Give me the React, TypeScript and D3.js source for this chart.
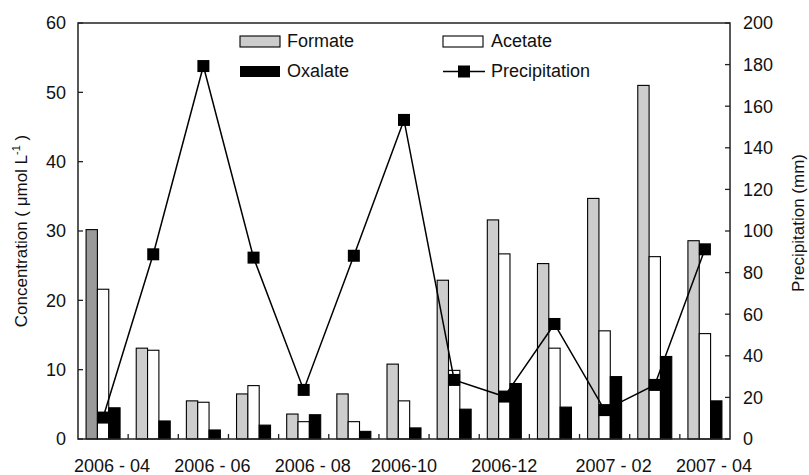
import React from "react";
import * as d3 from "d3";

const months = ["2006-04","2006-05","2006-06","2006-07","2006-08","2006-09","2006-10","2006-11","2006-12","2007-01","2007-02","2007-03","2007-04"];
const formate = [30.2, 13.1, 5.5, 6.5, 3.6, 6.5, 10.8, 22.9, 31.6, 25.3, 34.7, 51.0, 28.6];
const acetate = [21.6, 12.8, 5.3, 7.7, 2.5, 2.5, 5.5, 9.9, 26.7, 13.1, 15.6, 26.3, 15.2];
const oxalate = [4.5, 2.6, 1.3, 2.0, 3.5, 1.1, 1.6, 4.3, 8.0, 4.6, 9.0, 11.9, 5.5];
const precipitation = [10.3, 88.8, 179.3, 87.2, 23.6, 88.1, 153.4, 28.4, 20.4, 55.3, 13.9, 26.0, 91.2];
const leftTicks = [0, 10, 20, 30, 40, 50, 60];
const rightTicks = [0, 20, 40, 60, 80, 100, 120, 140, 160, 180, 200];
const xTickMonths = ["2006-04","2006-06","2006-08","2006-10","2006-12","2007-02","2007-04"];
const xTickLabels = ["2006 - 04","2006 - 06","2006 - 08","2006-10","2006-12","2007 - 02","2007 - 04"];
const seriesNames = ["Formate", "Acetate", "Oxalate"];

const W = 809, H = 475;
const M = { left: 78, right: 79, top: 23, bottom: 36 };
const FONT = "'Liberation Sans', Arial, sans-serif";

export default function App() {
  const x0 = d3.scaleBand<string>().domain(months).range([M.left, W - M.right]).padding(0);
  const bw = x0.bandwidth();
  const x1 = d3.scaleBand<string>().domain(seriesNames).range([-17, 17]).padding(0);
  const yL = d3.scaleLinear().domain([0, 60]).range([H - M.bottom, M.top]);
  const yR = d3.scaleLinear().domain([0, 200]).range([H - M.bottom, M.top]);
  const cx = (m: string) => (x0(m) as number) + bw / 2;
  const seriesData: { name: string; values: number[]; fill: (i: number) => string }[] = [
    { name: "Formate", values: formate, fill: (i) => (i === 0 ? "#9a9a9a" : "#cdcdcd") },
    { name: "Acetate", values: acetate, fill: () => "#ffffff" },
    { name: "Oxalate", values: oxalate, fill: () => "#000000" },
  ];
  const line = d3.line<number>().x((_, i) => cx(months[i])).y((d) => yR(d));
  const x0L = M.left, x1R = W - M.right, yB = H - M.bottom, yT = M.top;
  const ms = 12;

  return (
    <svg width={W} height={H} style={{ position: "absolute", left: 0, top: 0, background: "#fff" }} fontFamily={FONT}>
      <rect x={0} y={0} width={W} height={H} fill="#fff" />
      {seriesData.map((s) =>
        s.values.map((v, i) => (
          <rect key={s.name + i}
            x={cx(months[i]) + (x1(s.name) as number)}
            y={yL(v)}
            width={x1.bandwidth()}
            height={yB - yL(v)}
            fill={s.fill(i)} stroke="#000" strokeWidth={1.1} />
        ))
      )}
      <path d={line(precipitation) || ""} fill="none" stroke="#000" strokeWidth={1.5} />
      {precipitation.map((p, i) => (
        <rect key={"m" + i} x={cx(months[i]) - ms / 2} y={yR(p) - ms / 2} width={ms} height={ms} fill="#000" />
      ))}
      {/* frame */}
      <rect x={x0L} y={yT} width={x1R - x0L} height={yB - yT} fill="none" stroke="#222" strokeWidth={1.5} />
      {/* left ticks */}
      {leftTicks.map((t) => (
        <g key={"l" + t}>
          <line x1={x0L} x2={x0L + 5} y1={yL(t)} y2={yL(t)} stroke="#222" strokeWidth={1.3} />
          <text x={x0L - 12} y={yL(t)} dy="0.35em" textAnchor="end" fontSize={18} fill="#111">{t}</text>
        </g>
      ))}
      {rightTicks.map((t) => (
        <g key={"r" + t}>
          <line x1={x1R - 5} x2={x1R} y1={yR(t)} y2={yR(t)} stroke="#222" strokeWidth={1.3} />
          <text x={x1R + 13} y={yR(t)} dy="0.35em" textAnchor="start" fontSize={18} fill="#111">{t}</text>
        </g>
      ))}
      {months.slice(1).map((m) => (
        <line key={"b" + m} x1={x0(m) as number} x2={x0(m) as number} y1={yB} y2={yB - 5} stroke="#222" strokeWidth={1.3} />
      ))}
      {xTickMonths.map((m, i) => (
        <text key={"xl" + m} x={cx(m) + (xTickLabels[i].includes(" ") ? 9 : 0)} y={472} textAnchor="middle" fontSize={18} fill="#111">
          {xTickLabels[i]}
        </text>
      ))}
      <text transform={`translate(27,${(yT + yB) / 2}) rotate(-90)`} textAnchor="middle" fontSize={17} fill="#111">
        Concentration ( μmol L<tspan dy={-7} fontSize={11}>-1</tspan><tspan dy={7}> )</tspan>
      </text>
      <text transform={`translate(804,${(yT + yB) / 2 - 8}) rotate(-90)`} textAnchor="middle" fontSize={17} fill="#111">
        Precipitation (mm)
      </text>
      {/* legend */}
      <rect x={240} y={36} width={40} height={11} fill="#cdcdcd" stroke="#000" strokeWidth={1.1} />
      <text x={287} y={47} fontSize={18} fill="#111">Formate</text>
      <rect x={240} y={66} width={40} height={11} fill="#000" />
      <text x={287} y={77} fontSize={18} fill="#111">Oxalate</text>
      <rect x={443} y={36} width={40} height={11} fill="#fff" stroke="#000" strokeWidth={1.1} />
      <text x={491} y={47} fontSize={18} fill="#111">Acetate</text>
      <line x1={443} x2={485} y1={71.5} y2={71.5} stroke="#000" strokeWidth={1.5} />
      <rect x={458} y={65.5} width={12} height={12} fill="#000" />
      <text x={491} y={77} fontSize={18} fill="#111">Precipitation</text>
    </svg>
  );
}
